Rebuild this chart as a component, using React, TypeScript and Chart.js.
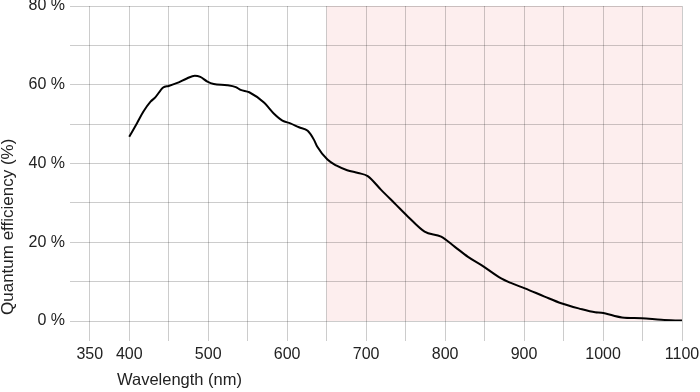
import React, { useEffect, useRef } from "react";
import { Chart, registerables } from "chart.js";

Chart.register(...registerables);

const wavelengths = [400, 410, 418, 427, 433, 443, 450, 460, 473, 483, 490, 499, 507, 524, 535, 541, 552, 571, 583, 594, 604, 615, 626, 634, 638, 651, 662, 676, 690, 702, 719, 736, 753, 774, 795, 812, 829, 846, 871, 884, 901, 926, 947, 969, 990, 998, 1024, 1049, 1074, 1100];
const efficiency = [46.8, 50.3, 53.2, 55.7, 56.8, 59.3, 59.7, 60.4, 61.6, 62.3, 62.0, 60.8, 60.2, 59.9, 59.4, 58.7, 58.1, 55.4, 52.7, 50.9, 50.2, 49.2, 48.3, 46.0, 44.3, 41.0, 39.5, 38.3, 37.6, 36.8, 33.3, 29.9, 26.5, 22.7, 21.4, 18.9, 16.3, 14.2, 10.8, 9.6, 8.3, 6.2, 4.5, 3.2, 2.2, 2.1, 0.9, 0.7, 0.3, 0.1];
const xGridTicks = [350, 400, 450, 500, 550, 600, 650, 700, 750, 800, 850, 900, 950, 1000, 1050, 1100];
const xLabelTicks = [350, 400, 500, 600, 700, 800, 900, 1000, 1100];
const yLabelTicks = [0, 20, 40, 60, 80];
const shadedRange = [650, 1100];
const xTitle = "Wavelength (nm)";
const yTitle = "Quantum efficiency (%)";

const FONT = "'Liberation Sans', Arial, sans-serif";
const TEXT_COLOR = "#222";

const shadePlugin = {
  id: "shade",
  beforeDraw(chart: any) {
    const { ctx, chartArea, scales } = chart;
    const x0 = scales.x.getPixelForValue(shadedRange[0]);
    const x1 = scales.x.getPixelForValue(shadedRange[1]);
    ctx.save();
    ctx.fillStyle = "rgb(253,238,238)";
    ctx.fillRect(x0, chartArea.top, x1 - x0, chartArea.bottom - chartArea.top);
    ctx.restore();
  },
};

const titlesPlugin = {
  id: "axisTitles",
  afterDraw(chart: any) {
    const { ctx, chartArea } = chart;
    ctx.save();
    ctx.fillStyle = TEXT_COLOR;
    ctx.textBaseline = "middle";
    ctx.textAlign = "left";
    ctx.font = `16.5px ${FONT}`;
    ctx.fillText(xTitle, chartArea.left + 47, chartArea.bottom + 59);
    ctx.translate(8, chartArea.bottom - 6);
    ctx.rotate(-Math.PI / 2);
    ctx.font = `17px ${FONT}`;
    ctx.fillText(yTitle, 0, 0);
    ctx.restore();
  },
};

export default function App() {
  const ref = useRef<HTMLCanvasElement | null>(null);
  useEffect(() => {
    if (!ref.current) return;
    const chart = new Chart(ref.current, {
      type: "line",
      data: {
        datasets: [
          {
            data: wavelengths.map((w, i) => ({ x: w, y: efficiency[i] })),
            borderColor: "#000",
            borderWidth: 2,
            pointRadius: 0,
            cubicInterpolationMode: "monotone",
            fill: false,
          },
        ],
      },
      options: {
        animation: false,
        responsive: false,
        layout: { padding: 0 },
        plugins: { legend: { display: false }, tooltip: { enabled: false } },
        scales: {
          x: {
            type: "linear",
            min: 325,
            max: 1100,
            border: { display: false },
            grid: { color: "rgba(0,0,0,0.2)", lineWidth: 1, tickLength: 20, drawTicks: true },
            afterBuildTicks(scale: any) {
              scale.ticks = xGridTicks.map((v) => ({ value: v }));
            },
            afterFit(scale: any) {
              scale.height = 71;
              scale.paddingRight = 18;
              scale.paddingLeft = 0;
            },
            ticks: {
              autoSkip: false,
              maxRotation: 0,
              padding: 4,
              color: TEXT_COLOR,
              font: { family: FONT, size: 16 },
              callback: (v: any) => (xLabelTicks.includes(Number(v)) ? String(v) : ""),
            },
          },
          y: {
            min: 0,
            max: 80,
            border: { display: false },
            grid: { color: "rgba(0,0,0,0.2)", lineWidth: 1, drawTicks: false },
            ticks: {
              stepSize: 10,
              padding: 5,
              color: TEXT_COLOR,
              font: { family: FONT, size: 16 },
              callback: (v: any) => (yLabelTicks.includes(Number(v)) ? v + " %" : ""),
            },
            afterFit(scale: any) {
              scale.width = 70;
              scale.paddingTop = 6;
              scale.paddingBottom = 0;
            },
          },
        },
      },
      plugins: [shadePlugin, titlesPlugin],
    } as any);
    return () => chart.destroy();
  }, []);
  return (
    <div style={{ position: "fixed", left: 0, top: 0, width: 700, height: 392, background: "#fff" }}>
      <canvas ref={ref} width={700} height={392} />
    </div>
  );
}
